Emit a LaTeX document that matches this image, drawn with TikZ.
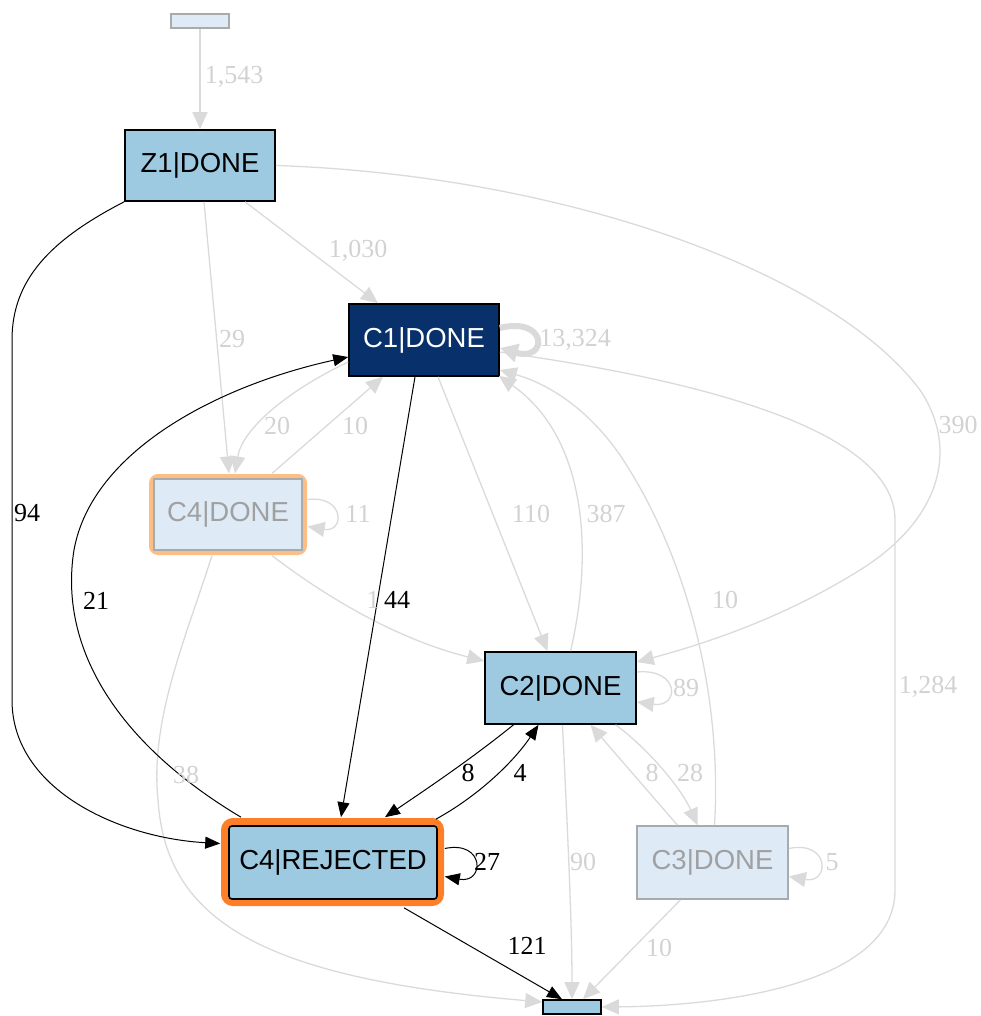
\documentclass[tikz,border=0pt]{standalone}
\usepackage{fontspec}
\setmainfont{Liberation Serif}
\newfontfamily\boxfont{Liberation Sans}
\usetikzlibrary{arrows.meta}

\definecolor{midblue}{HTML}{9ECAE1}
\definecolor{paleblue}{HTML}{DEEBF7}
\definecolor{deepblue}{HTML}{08306B}
\definecolor{hotorange}{HTML}{FD7F28}
\definecolor{softorange}{HTML}{FDBE85}
\definecolor{fadetext}{HTML}{A0A0A0}
\definecolor{fadeborder}{HTML}{A8ABAD}
\definecolor{edgegray}{HTML}{DADADA}
\definecolor{labelgray}{HTML}{D2D2D2}

\tikzset{
  box/.style={draw=black, line width=1.6pt, inner sep=0pt,
    font=\boxfont\fontsize{27.5}{32}\selectfont},
  fadebox/.style={box, draw=fadeborder, fill=paleblue, text=fadetext},
  grayedge/.style={draw=edgegray, line width=1.3pt,
    -{Triangle[length=17pt,width=15pt,fill=edgegray]}},
  blackedge/.style={draw=black, line width=1pt,
    -{Triangle[length=15pt,width=12pt]}},
  lab/.style={inner sep=0pt, text=labelgray, font=\fontsize{26}{30}\selectfont},
  labk/.style={lab, text=black},
}

\begin{document}
\begin{tikzpicture}[x=1pt, y=-1pt]
\useasboundingbox (0,0) rectangle (981,1016);

% highlight frames behind the two C4 states
\draw[softorange, line width=4pt, rounded corners=7pt] (151,476) rectangle (305,553);
\draw[hotorange, line width=8pt, rounded corners=8pt] (225,822) rectangle (440,902);

% states
\node[box, draw=fadeborder, fill=paleblue, minimum width=58pt, minimum height=14pt] (st) at (200,21) {};
\node[box, fill=midblue, minimum width=150pt, minimum height=71pt] (z1) at (200,165.5) {Z1|DONE};
\node[box, fill=deepblue, text=white, minimum width=150pt, minimum height=72pt] (c1) at (424,340) {C1|DONE};
\node[fadebox, line width=1.2pt, minimum width=148pt, minimum height=71pt] (c4d) at (228,514.5) {C4|DONE};
\node[box, fill=midblue, minimum width=151pt, minimum height=72pt] (c2) at (560.5,688) {C2|DONE};
\node[fadebox, minimum width=151pt, minimum height=73pt] (c3) at (712.5,862.5) {C3|DONE};
\node[box, fill=midblue, rounded corners=3pt, minimum width=208pt, minimum height=73pt] (c4r) at (333,862.5) {C4|REJECTED};
\node[box, fill=midblue, minimum width=58pt, minimum height=14pt] (en) at (572,1007) {};

% faint transitions
\draw[grayedge] (st.south) -- (z1.north);
\draw[grayedge] ([xshift=45pt]z1.south) -- ([xshift=-46pt]c1.north);
\draw[grayedge] ([xshift=4pt]z1.south) -- ([xshift=1pt,yshift=5pt]c4d.north);
\draw[grayedge] (z1.east) .. controls (560,175) and (830,270) .. (920,390)
  .. controls (960,450) and (940,520) .. (860,570)
  .. controls (780,620) and (700,645) .. ([yshift=26pt]c2.east);
\draw[draw=edgegray, line width=6pt, -{Triangle[length=18pt,width=18pt,fill=edgegray]}]
  ([yshift=12pt]c1.east) .. controls (548,316) and (548,362) .. ([yshift=-8pt]c1.east);
\draw[grayedge] ([yshift=-22pt]c1.west) .. controls (285,392) and (242,430) .. ([xshift=7pt,yshift=5pt]c4d.north);
\draw[grayedge] ([xshift=44pt,yshift=5pt]c4d.north) -- ([xshift=-41pt]c1.south);
\draw[grayedge] ([xshift=44pt,yshift=-5pt]c4d.south) .. controls (330,600) and (400,640) .. ([yshift=27pt]c2.west);
\draw[grayedge] ([xshift=5pt,yshift=15pt]c4d.east) .. controls (345,495) and (345,533) .. ([xshift=5pt,yshift=-12pt]c4d.east);
\draw[grayedge] ([xshift=-16pt,yshift=-5pt]c4d.south) .. controls (185,640) and (150,720) .. (158,800)
  .. controls (166,920) and (260,978) .. ([yshift=5pt]en.west);
\draw[grayedge] ([xshift=14pt]c1.south) -- ([xshift=-13pt]c2.north);
\draw[grayedge] ([xshift=10pt]c2.north) .. controls (592,560) and (590,440) .. ([xshift=-1pt,yshift=1pt]c1.south east);
\draw[grayedge] ([xshift=2pt]c3.north) .. controls (722,700) and (690,560) .. (620,455)
  .. controls (585,405) and (545,383) .. ([yshift=-30pt]c1.east);
\draw[grayedge] ([yshift=-12pt]c1.east) .. controls (700,380) and (895,430) .. (895,520)
  -- (895,890) .. controls (895,985) and (720,1006) .. (en.east);
\draw[grayedge] ([yshift=16pt]c2.east) .. controls (680,668) and (680,708) .. ([yshift=-14pt]c2.east);
\draw[grayedge] ([xshift=55pt]c2.south) .. controls (650,750) and (682,790) .. ([xshift=-15pt]c3.north);
\draw[grayedge] ([xshift=-35pt]c3.north) -- ([xshift=30pt]c2.south);
\draw[grayedge] ([xshift=2pt]c2.south) .. controls (567,820) and (572,920) .. (en.north);
\draw[grayedge] ([xshift=-32pt]c3.south) -- ([xshift=11pt]en.north);
\draw[grayedge] ([yshift=14pt]c3.east) .. controls (830,840) and (830,884) .. ([yshift=-14pt]c3.east);

% strong transitions
\draw[blackedge] (z1.south west) .. controls (50,240) and (12,280) .. (12,340) -- (12,700)
  .. controls (12,790) and (120,838) .. ([xshift=-8pt,yshift=19pt]c4r.west);
\draw[blackedge] ([xshift=-92pt,yshift=8pt]c4r.north) .. controls (120,745) and (58,650) .. (74,550)
  .. controls (92,450) and (220,385) .. ([yshift=-17pt]c1.west);
\draw[blackedge] ([xshift=-9pt]c1.south) -- ([xshift=8pt,yshift=8pt]c4r.north);
\draw[blackedge] ([xshift=-47pt]c2.south) .. controls (470,760) and (425,790) .. ([xshift=52pt,yshift=8pt]c4r.north);
\draw[blackedge] ([xshift=-2pt,yshift=6pt]c4r.north east) .. controls (480,795) and (515,760) .. ([xshift=-22pt]c2.south);
\draw[blackedge] ([xshift=71pt,yshift=-8pt]c4r.south) -- ([xshift=-10pt]en.north);
\draw[blackedge] ([xshift=7pt,yshift=14pt]c4r.east) .. controls (485,840) and (485,884) .. ([xshift=7pt,yshift=-14pt]c4r.east);

% transition counts
\node[lab] (n1543) at (234,77) {1,543};
\node[lab] (n1030) at (358,251) {1,030};
\node[lab] (n29) at (232,339) {29};
\node[labk] (n94) at (27,513) {94};
\node[lab] (n13324) at (575,340) {13,324};
\node[lab] (n20) at (277,426) {20};
\node[lab] (n10a) at (355,426) {10};
\node[lab] (n390) at (958,425) {390};
\node[lab] (n11) at (358,514) {11};
\node[lab] (n110) at (531,514) {110};
\node[lab] (n387) at (606,514) {387};
\node[labk] (n21) at (96,601) {21};
\node[lab] (n1) at (373,600) {1};
\node[labk] (n44) at (397,600) {44};
\node[lab] (n10b) at (725,600) {10};
\node[lab] (n89) at (686,688) {89};
\node[lab] (n1284) at (928,687) {1,284};
\node[labk] (n8a) at (468,773) {8};
\node[labk] (n4) at (520,773) {4};
\node[lab] (n8b) at (652,773) {8};
\node[lab] (n28) at (690,773) {28};
\node[lab] (n38) at (186,775) {38};
\node[labk] (n27) at (487,862) {27};
\node[lab] (n90) at (583,862) {90};
\node[lab] (n5) at (832,862) {5};
\node[labk] (n121) at (527,946) {121};
\node[lab] (n10c) at (659,948) {10};
\end{tikzpicture}
\end{document}
